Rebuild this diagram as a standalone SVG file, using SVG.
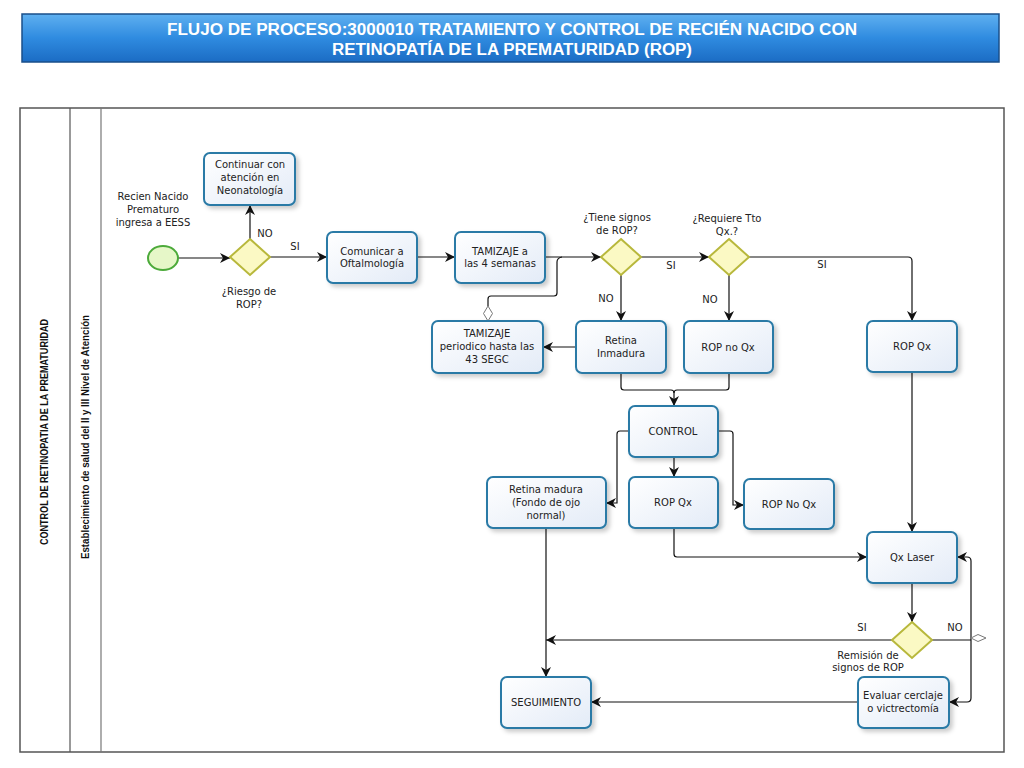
<svg xmlns="http://www.w3.org/2000/svg" width="1024" height="768" viewBox="0 0 1024 768">
<defs>
<linearGradient id="tg" x1="0" y1="0" x2="0" y2="1">
<stop offset="0" stop-color="#5fb0f0"/><stop offset="0.5" stop-color="#2f8be0"/><stop offset="1" stop-color="#1b6cc4"/>
</linearGradient>
<linearGradient id="ng" x1="0" y1="0" x2="1" y2="1">
<stop offset="0" stop-color="#ffffff"/><stop offset="1" stop-color="#e3ebf7"/>
</linearGradient>
<filter id="sh" x="-20%" y="-20%" width="150%" height="150%">
<feDropShadow dx="3" dy="3" stdDeviation="2" flood-color="#000" flood-opacity="0.2"/>
</filter>
<marker id="ar" viewBox="0 0 10 10" refX="10" refY="5" markerWidth="10" markerHeight="10" markerUnits="userSpaceOnUse" orient="auto">
<path d="M0,0 L10,5 L0,10 L3,5 Z" fill="#111"/>
</marker>
</defs>
<style>
.node rect{fill:url(#ng);stroke:#2a7aa6;stroke-width:2;filter:url(#sh)}
.t{font-family:"DejaVu Sans",Verdana,sans-serif;font-size:10px;fill:#222;text-anchor:middle}
.dia{fill:#fbf9c4;stroke:#b8b83c;stroke-width:2}
.c{fill:none;stroke:#111;stroke-width:1.2}
.ca{fill:none;stroke:#111;stroke-width:1.2;marker-end:url(#ar)}
.od{fill:#fff;stroke:#777;stroke-width:1}
.lane{font-family:"Liberation Sans",Arial,sans-serif;font-size:10.5px;font-weight:bold;fill:#111;text-anchor:middle}
</style>
<rect width="1024" height="768" fill="#fff"/>
<!-- title -->
<g id="title">
<rect x="22" y="14" width="977" height="48" fill="url(#tg)" stroke="#1a4f8a" stroke-width="1.5"/>
<text x="512" y="35" font-family="Liberation Sans,Arial,sans-serif" font-size="16" font-weight="bold" fill="#fff" text-anchor="middle" textLength="690" lengthAdjust="spacingAndGlyphs">FLUJO DE PROCESO:3000010 TRATAMIENTO Y CONTROL DE RECIÉN NACIDO CON</text>
<text x="512" y="55" font-family="Liberation Sans,Arial,sans-serif" font-size="16" font-weight="bold" fill="#fff" text-anchor="middle" textLength="360" lengthAdjust="spacingAndGlyphs">RETINOPATÍA DE LA PREMATURIDAD (ROP)</text>
</g>
<!-- pool -->
<g id="pool">
<rect x="20" y="108" width="984" height="644" fill="#fff" stroke="#555" stroke-width="1.5"/>
<line x1="70" y1="108" x2="70" y2="752" stroke="#555" stroke-width="1.2"/>
<line x1="101" y1="108" x2="101" y2="752" stroke="#777" stroke-width="1.2"/>
<text class="lane" transform="translate(48,432) rotate(-90)" textLength="226" lengthAdjust="spacingAndGlyphs">CONTROL DE RETINOPATIA DE LA PREMATURIDAD</text>
<text class="lane" transform="translate(89,437) rotate(-90)" textLength="244" lengthAdjust="spacingAndGlyphs">Establecimiento de salud del II y III Nivel de Atención</text>
</g>
<!-- connectors -->
<g id="connectors">
<path class="ca" d="M178,258 H230"/>
<path class="ca" d="M250,239 V205"/>
<path class="ca" d="M270,257 H327"/>
<path class="ca" d="M417,257 H455"/>
<path class="ca" d="M545,257 H601"/>
<path class="ca" d="M641,257 H709"/>
<path class="ca" d="M621,275 V321"/>
<path class="ca" d="M729,275 V321"/>
<path class="ca" d="M749,257 H908 Q912,257 912,261 V321"/>
<path class="ca" d="M576,347 H543"/>
<path class="c" d="M488,306 V299 Q488,296 491,296 H554 Q557,296 557,293 V262 Q557,258 562,257"/>
<path class="od" d="M488,321 L492.5,313.5 L488,306 L483.5,313.5 Z"/>
<path class="c" d="M621,373 V387 Q621,390 624,390 H671 Q674,390 674,393"/>
<path class="ca" d="M729,373 V387 Q729,390 726,390 H677 Q674,390 674,393 V406"/>
<path class="ca" d="M629,431 H620 Q617,431 617,434 V503 H606"/>
<path class="ca" d="M674,457 V477"/>
<path class="ca" d="M718,431 H730 Q733,431 733,434 V505 H744"/>
<path class="ca" d="M674,528 V554 Q674,557 677,557 H867"/>
<path class="ca" d="M912,372 V532"/>
<path class="ca" d="M912,583 V622"/>
<path class="ca" d="M892,640 H546"/>
<path class="ca" d="M546,528 V677"/>
<path class="c" d="M932,640 H971"/>
<path class="ca" d="M971,640 V561 Q971,557 967,557 H957"/>
<path class="ca" d="M971,640 V698 Q971,702 967,702 H949"/>
<path class="od" d="M971,638 L978,634.5 L986,638 L978,641.5 Z"/>
<path class="ca" d="M858,702 H591"/>
</g>
<!-- start -->
<g id="start">
<ellipse cx="163" cy="258" rx="15" ry="12" fill="#e6f7c8" stroke="#4caa3a" stroke-width="2"/>
<text class="t" x="153" y="200">Recien Nacido</text>
<text class="t" x="153" y="213">Prematuro</text>
<text class="t" x="153" y="226">ingresa a EESS</text>
</g>
<!-- gateways -->
<g id="gw-riesgo">
<path class="dia" d="M250,239 L270,257 L250,275 L230,257 Z"/>
<text class="t" x="249" y="295">¿Riesgo de</text>
<text class="t" x="249" y="308">ROP?</text>
<text class="t" x="265" y="237">NO</text>
<text class="t" x="295" y="250">SI</text>
</g>
<g id="gw-signos">
<path class="dia" d="M621,239 L641,257 L621,275 L601,257 Z"/>
<text class="t" x="617" y="221">¿Tiene signos</text>
<text class="t" x="617" y="234">de ROP?</text>
<text class="t" x="671" y="269">SI</text>
<text class="t" x="606" y="302">NO</text>
</g>
<g id="gw-requiere">
<path class="dia" d="M729,239 L749,257 L729,275 L709,257 Z"/>
<text class="t" x="727" y="222">¿Requiere Tto</text>
<text class="t" x="727" y="235">Qx.?</text>
<text class="t" x="710" y="303">NO</text>
<text class="t" x="822" y="268">SI</text>
</g>
<g id="gw-remision">
<path class="dia" d="M912,622 L932,640 L912,658 L892,640 Z"/>
<text class="t" x="868" y="659">Remisión de</text>
<text class="t" x="868" y="671">signos de ROP</text>
<text class="t" x="862" y="631">SI</text>
<text class="t" x="955" y="631">NO</text>
</g>
<!-- tasks -->
<g id="n-continuar" class="node"><rect x="204" y="153" width="91" height="52" rx="6"/>
<text class="t" x="250" y="168">Continuar con</text><text class="t" x="250" y="181">atención en</text><text class="t" x="250" y="194">Neonatología</text></g>
<g id="n-comunicar" class="node"><rect x="327" y="232" width="90" height="51" rx="6"/>
<text class="t" x="372" y="255">Comunicar a</text><text class="t" x="372" y="267">Oftalmología</text></g>
<g id="n-tamizaje4" class="node"><rect x="455" y="232" width="90" height="51" rx="6"/>
<text class="t" x="500" y="255">TAMIZAJE  a</text><text class="t" x="500" y="267">las 4 semanas</text></g>
<g id="n-tamizajeper" class="node"><rect x="432" y="321" width="111" height="52" rx="6"/>
<text class="t" x="487" y="337">TAMIZAJE</text><text class="t" x="487" y="350">periodico hasta las</text><text class="t" x="487" y="363">43 SEGC</text></g>
<g id="n-retinainm" class="node"><rect x="576" y="321" width="90" height="52" rx="6"/>
<text class="t" x="621" y="344">Retina</text><text class="t" x="621" y="357">Inmadura</text></g>
<g id="n-ropnoqx" class="node"><rect x="684" y="321" width="89" height="52" rx="6"/>
<text class="t" x="728" y="351">ROP no Qx</text></g>
<g id="n-ropqx1" class="node"><rect x="867" y="321" width="90" height="51" rx="6"/>
<text class="t" x="912" y="350">ROP Qx</text></g>
<g id="n-control" class="node"><rect x="629" y="406" width="89" height="51" rx="6"/>
<text class="t" x="673" y="435">CONTROL</text></g>
<g id="n-retinamad" class="node"><rect x="487" y="477" width="119" height="51" rx="6"/>
<text class="t" x="546" y="493">Retina madura</text><text class="t" x="546" y="506">(Fondo de ojo</text><text class="t" x="546" y="519">normal)</text></g>
<g id="n-ropqx2" class="node"><rect x="629" y="477" width="89" height="51" rx="6"/>
<text class="t" x="673" y="506">ROP Qx</text></g>
<g id="n-ropnoqx2" class="node"><rect x="744" y="479" width="90" height="50" rx="6"/>
<text class="t" x="789" y="508">ROP No Qx</text></g>
<g id="n-qxlaser" class="node"><rect x="867" y="532" width="90" height="51" rx="6"/>
<text class="t" x="912" y="561">Qx Laser</text></g>
<g id="n-seguimiento" class="node"><rect x="501" y="677" width="90" height="51" rx="6"/>
<text class="t" x="546" y="706">SEGUIMIENTO</text></g>
<g id="n-evaluar" class="node"><rect x="858" y="677" width="91" height="51" rx="6"/>
<text class="t" x="903" y="699">Evaluar cerclaje</text><text class="t" x="903" y="712">o victrectomía</text></g>
</svg>
